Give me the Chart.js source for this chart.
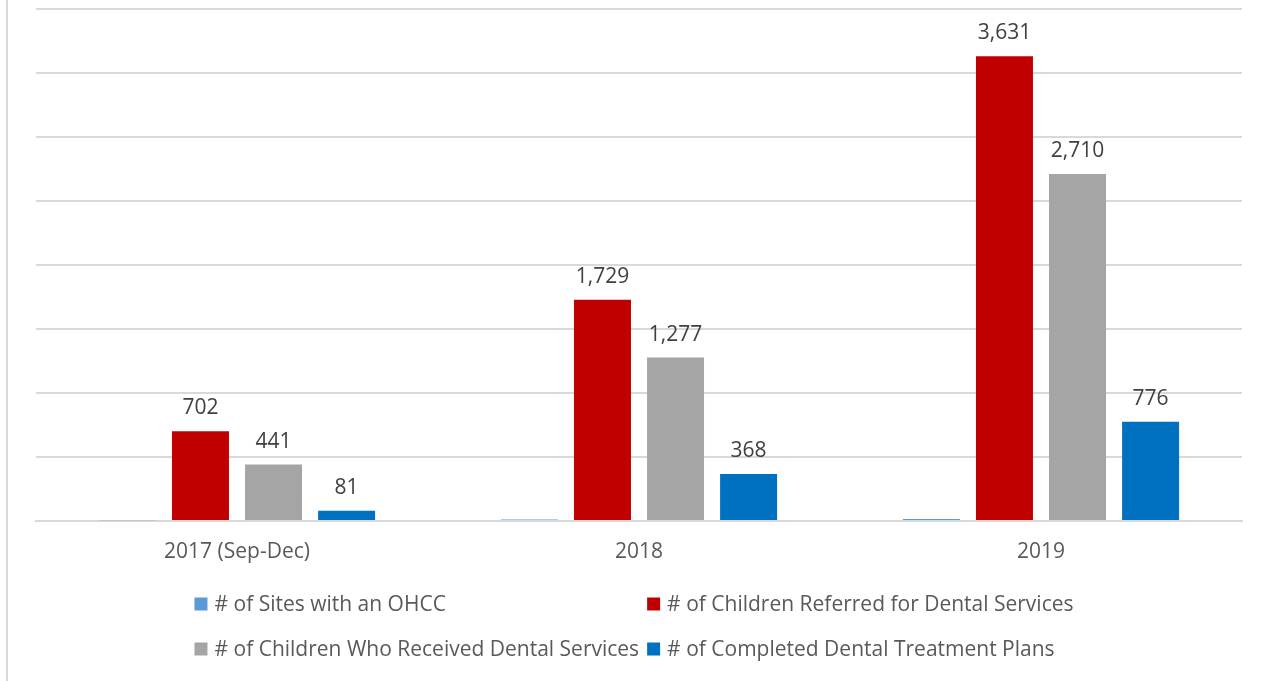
<!DOCTYPE html>
<html>
<head>
<meta charset="utf-8">
<script src="https://cdn.jsdelivr.net/npm/chart.js@4/dist/chart.umd.min.js"></script>
<style>
  html, body { margin: 0; padding: 0; background: #fff; }
  #wrap { position: relative; width: 1268px; height: 681px; }
  #edge { position: absolute; left: 6px; top: 0; width: 2px; height: 681px; background: #d9d9d9; }
  canvas { position: absolute; left: 0; top: 0; }
</style>
</head>
<body>
<div id="wrap"><canvas id="c" width="1268" height="681"></canvas><div id="edge"></div></div>
<script>
const categories = ["2017 (Sep-Dec)", "2018", "2019"];
const seriesNames = [
  "# of Sites with an OHCC",
  "# of Children Referred for Dental Services",
  "# of Children Who Received Dental Services",
  "# of Completed Dental Treatment Plans"
];
const sitesWithOHCC = [6, 12, 16];
const childrenReferred = [702, 1729, 3631];
const childrenReceived = [441, 1277, 2710];
const completedPlans = [81, 368, 776];
const seriesColors = ["#5b9bd5", "#c00000", "#a5a5a5", "#0070c0"];
const labeledSeries = [false, true, true, true];

const FONT = "'Open Sans', sans-serif";
const FONT_SIZE = 21;

const valueLabels = {
  id: 'valueLabels',
  afterDatasetsDraw(chart) {
    const ctx = chart.ctx;
    ctx.save();
    ctx.font = FONT_SIZE + "px " + FONT;
    ctx.fillStyle = "#404040";
    ctx.textAlign = "center";
    ctx.textBaseline = "alphabetic";
    chart.data.datasets.forEach((ds, i) => {
      if (!labeledSeries[i]) return;
      const meta = chart.getDatasetMeta(i);
      meta.data.forEach((el, j) => {
        ctx.fillText(ds.data[j].toLocaleString('en-US'), el.x, el.y - 17);
      });
    });
    ctx.restore();
  }
};

const gridLegend = {
  id: 'gridLegend',
  afterDraw(chart) {
    const ctx = chart.ctx;
    ctx.save();
    ctx.font = FONT_SIZE + "px " + FONT;
    const box = 13, gap = 7, colGap = 8;
    const items = chart.data.datasets.map((d) => ({ label: d.label, color: d.backgroundColor }));
    const cols = 2;
    const colW = [0, 0];
    items.forEach((it, i) => {
      const w = box + gap + ctx.measureText(it.label).width;
      colW[i % cols] = Math.max(colW[i % cols], w);
    });
    const total = colW[0] + colGap + colW[1];
    const x0 = (chart.width - total) / 2;
    const rowY = [604, 649];
    ctx.textBaseline = "middle";
    ctx.textAlign = "left";
    items.forEach((it, i) => {
      const c = i % cols, r = Math.floor(i / cols);
      const x = c === 0 ? x0 : x0 + colW[0] + colGap;
      const y = rowY[r];
      ctx.fillStyle = it.color;
      ctx.fillRect(x, y - box / 2, box, box);
      ctx.fillStyle = "#595959";
      ctx.fillText(it.label, x + box + gap, y + 1);
    });
    ctx.restore();
  }
};

const allSeries = [sitesWithOHCC, childrenReferred, childrenReceived, completedPlans];

new Chart(document.getElementById('c'), {
  type: 'bar',
  data: {
    labels: categories,
    datasets: allSeries.map((vals, i) => ({
      label: seriesNames[i],
      data: vals,
      backgroundColor: seriesColors[i],
      borderWidth: 0,
      categoryPercentage: 0.727,
      barPercentage: 0.78
    }))
  },
  options: {
    responsive: false,
    animation: false,
    devicePixelRatio: 1,
    layout: { padding: { left: 36, right: 26, top: 9, bottom: 0 } },
    plugins: {
      legend: { display: false },
      tooltip: { enabled: false }
    },
    scales: {
      x: {
        grid: { display: false, drawTicks: false },
        border: { display: true, color: "#d9d9d9", width: 2 },
        ticks: { color: "#595959", font: { family: FONT, size: FONT_SIZE }, padding: 18 },
        afterFit(scale) { scale.height = 160; }
      },
      y: {
        min: 0, max: 4000,
        ticks: { display: false, stepSize: 500 },
        border: { display: false },
        grid: { color: "#d9d9d9", lineWidth: 2, drawTicks: false },
        afterFit(scale) { scale.width = 0; }
      }
    }
  },
  plugins: [valueLabels, gridLegend]
});
</script>
</body>
</html>
